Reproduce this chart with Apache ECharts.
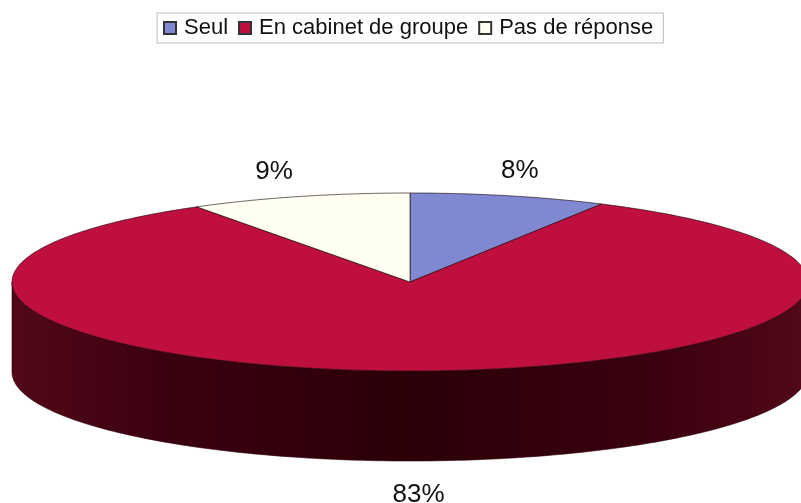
<!DOCTYPE html>
<html>
<head>
<meta charset="utf-8">
<script src="https://cdn.jsdelivr.net/npm/echarts@6/dist/echarts.min.js"></script>
<style>
  html, body { margin: 0; padding: 0; background: #fff; }
  #chart { width: 801px; height: 503px; }
</style>
</head>
<body>
<div id="chart"></div>
<script type="text/javascript">
var names = ['Seul', 'En cabinet de groupe', 'Pas de réponse'];
var values = [8, 83, 9];
var labels = ['8%', '83%', '9%'];
var colors = ['#8088d2', '#be0f3e', '#fffff2'];

var total = values.reduce(function (a, b) { return a + b; }, 0);

// pseudo 3d pie: ellipse top face + front wall
var CX = 410, CY = 282, RX = 398, RY = 89, DEPTH = 90;

function pt(a, dy) {
    return [CX + RX * Math.sin(a), CY - RY * Math.cos(a) + (dy || 0)];
}

function arc(a0, a1, dy) {
    var out = [];
    var n = Math.max(2, Math.ceil((a1 - a0) / (Math.PI / 180)));
    for (var i = 0; i <= n; i++) {
        out.push(pt(a0 + (a1 - a0) * i / n, dy));
    }
    return out;
}

function renderSlice(idx) {
    var before = 0;
    for (var i = 0; i < idx; i++) before += values[i];
    var a0 = before / total * Math.PI * 2;
    var a1 = (before + values[idx]) / total * Math.PI * 2;
    var children = [];

    // front wall, visible between 90 and 270 deg
    var s0 = Math.max(a0, Math.PI / 2), s1 = Math.min(a1, Math.PI * 1.5);
    if (s1 > s0) {
        var top = arc(s0, s1, 0);
        var bot = arc(s0, s1, DEPTH).reverse();
        children.push({
            type: 'polygon',
            z2: 1,
            shape: { points: top.concat(bot) },
            style: {
                fill: new echarts.graphic.LinearGradient(0, 0, 1, 0, [
                    { offset: 0, color: '#520818' },
                    { offset: 0.2, color: '#3a0010' },
                    { offset: 0.5, color: '#2c0008' },
                    { offset: 0.8, color: '#3a0010' },
                    { offset: 1, color: '#520818' }
                ]),
                stroke: '#2a0008',
                lineWidth: 0.6
            }
        });
    }

    // top face
    children.push({
        type: 'polygon',
        z2: 10,
        shape: { points: [[CX, CY]].concat(arc(a0, a1, 0)) },
        style: { fill: colors[idx], stroke: 'rgba(20,0,0,0.75)', lineWidth: 0.8 }
    });

    // label
    var m = (a0 + a1) / 2;
    var ly = CY - RY * 1.29 * Math.cos(m);
    if (Math.cos(m) < 0) ly += DEPTH + 8;
    children.push({
        type: 'text',
        z2: 20,
        style: {
            x: CX + RX * 1.17 * Math.sin(m) - 6,
            y: ly,
            text: labels[idx],
            fill: '#111',
            font: '26px "Liberation Sans", Arial, sans-serif',
            align: 'center',
            verticalAlign: 'middle'
        }
    });

    return { type: 'group', children: children };
}

var series = names.map(function (name, idx) {
    return {
        type: 'custom',
        name: name,
        coordinateSystem: 'none',
        silent: true,
        itemStyle: { color: colors[idx], borderColor: '#333', borderWidth: 1 },
        data: [values[idx]],
        renderItem: function () {
            return renderSlice(idx);
        }
    };
});

var myChart = echarts.init(document.getElementById('chart'));
var option = {
    animation: false,
    legend: {
        data: names,
        top: 13,
        left: 157,
        icon: 'rect',
        itemWidth: 12,
        itemHeight: 12,
        itemGap: 10,
        padding: [4, 10, 4, 6],
        borderColor: '#b8bfb8',
        borderWidth: 1,
        backgroundColor: '#fff',
        selectedMode: false,
        textStyle: {
            fontFamily: '"Liberation Sans", Arial, sans-serif',
            fontSize: 22,
            color: '#111',
            padding: [0, 0, 0, 3]
        }
    },
    series: series
};
myChart.setOption(option);
</script>
</body>
</html>
